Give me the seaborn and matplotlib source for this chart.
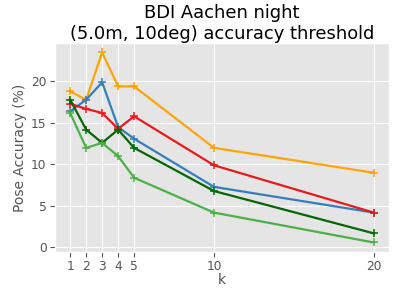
import matplotlib
matplotlib.use("Agg")
import matplotlib.pyplot as plt
import seaborn as sns
import pandas as pd

plt.style.use("ggplot")

k = [1, 2, 3, 4, 5, 10, 20]
orange = [18.8, 17.8, 23.5, 19.4, 19.4, 12.0, 9.0]
blue = [16.4, 17.8, 19.9, 14.5, 13.1, 7.3, 4.2]
red = [17.3, 16.7, 16.2, 14.3, 15.8, 9.9, 4.2]
darkgreen = [17.8, 14.2, 12.6, 14.2, 12.0, 6.8, 1.7]
lightgreen = [16.2, 12.0, 12.6, 11.0, 8.4, 4.2, 0.6]

series = {
    "orange": (orange, "#FFA500"),
    "blue": (blue, "#377eb8"),
    "red": (red, "#e41a1c"),
    "darkgreen": (darkgreen, "#006400"),
    "lightgreen": (lightgreen, "#4daf4a"),
}

fig = plt.figure(figsize=(4, 2.88), dpi=100)
ax = fig.add_axes([0.1375, 0.125, 0.835, 0.726])

for name, (vals, col) in series.items():
    df = pd.DataFrame({"k": k, "acc": vals})
    sns.lineplot(data=df, x="k", y="acc", ax=ax, color=col, marker="+",
                 markersize=6, markeredgewidth=1.1, markeredgecolor=col,
                 linewidth=1.6)

ax.set_xticks(k)
ax.set_xticklabels([str(v) for v in k])
ax.set_yticks([0, 5, 10, 15, 20])
ax.tick_params(axis="both", labelsize=8.8, length=3.5, pad=2.5)
ax.set_xlabel("k", fontsize=10, labelpad=0)
ax.set_ylabel("Pose Accuracy (%)", fontsize=10, labelpad=3)
ax.set_title("BDI Aachen night\n(5.0m, 10deg) accuracy threshold", fontsize=12.9, pad=2)

fig.savefig("out.png", dpi=100)
